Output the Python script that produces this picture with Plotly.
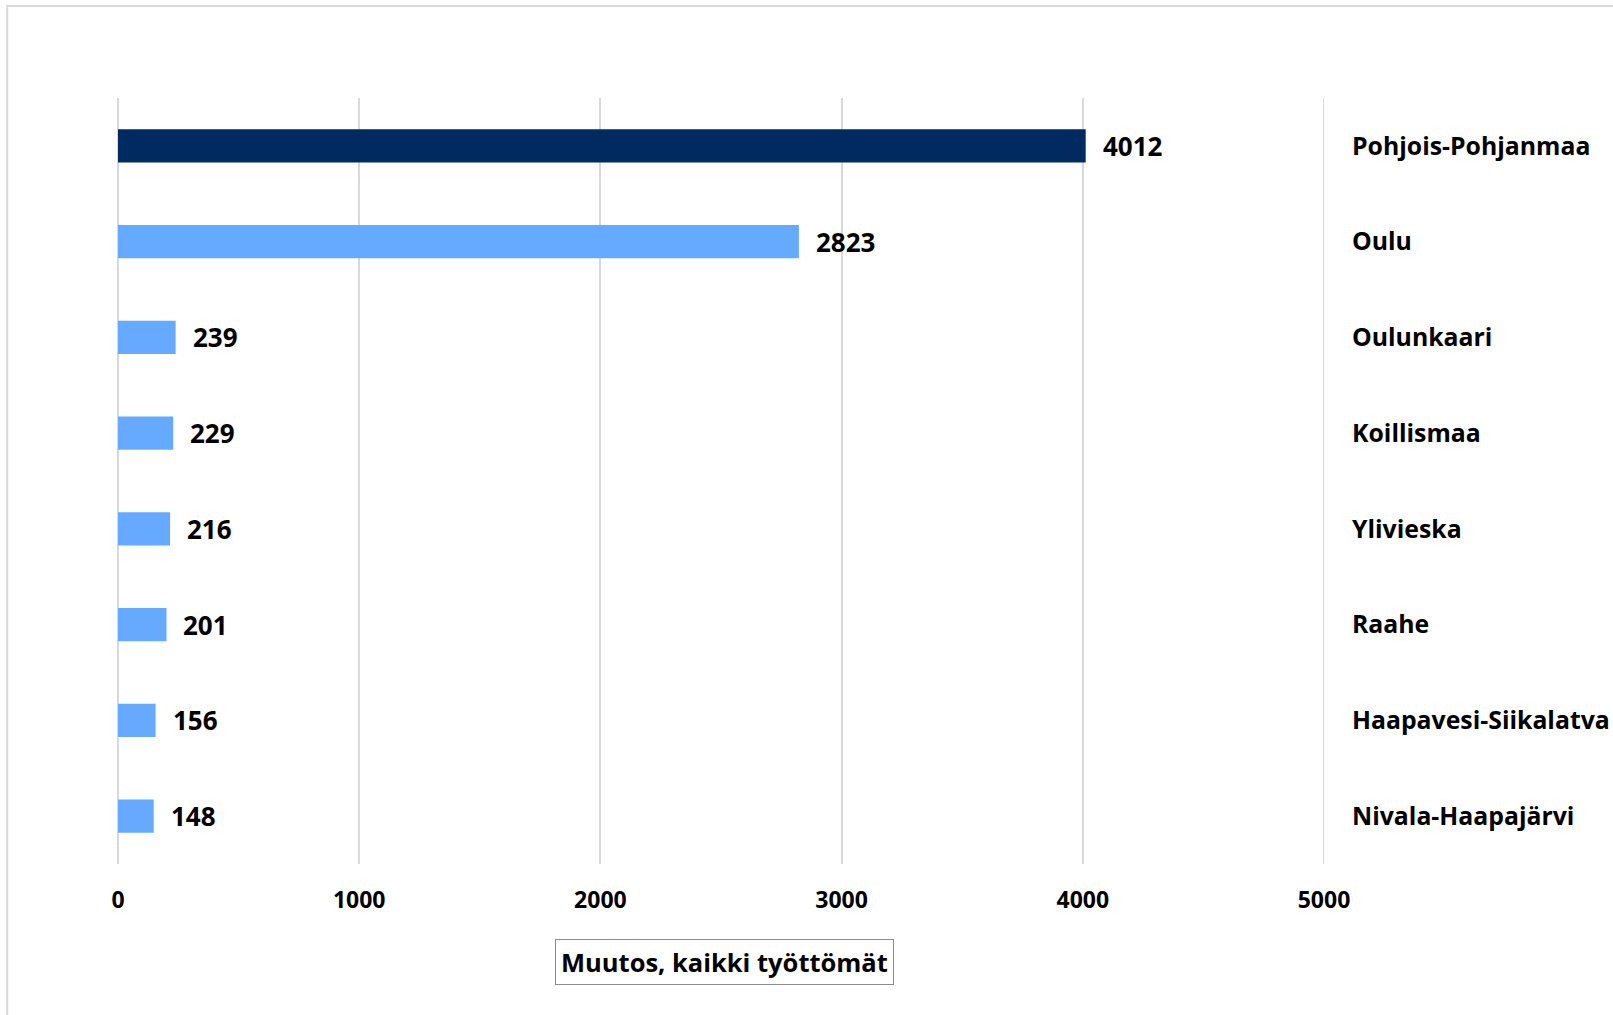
import plotly.graph_objects as go

categories = ["Pohjois-Pohjanmaa", "Oulu", "Oulunkaari", "Koillismaa", "Ylivieska",
              "Raahe", "Haapavesi-Siikalatva", "Nivala-Haapajärvi"]
values = [4012, 2823, 239, 229, 216, 201, 156, 148]
bar_colors = ["#002A60"] + ["#66AAFF"] * 7
tick_vals = [0, 1000, 2000, 3000, 4000, 5000]
axis_title = "Muutos, kaikki työttömät"

FONT = "Open Sans"

fig = go.Figure()
fig.add_trace(go.Bar(
    x=values, y=categories, orientation="h",
    marker=dict(color=bar_colors, line=dict(width=0)),
    width=0.345, hoverinfo="x+y",
))

for c, v in zip(categories, values):
    fig.add_annotation(x=v, y=c, text=f"<b>{v}</b>", showarrow=False,
                       xanchor="left", yanchor="middle", xshift=15, yshift=0,
                       font=dict(family=FONT, size=26, color="#000000"))

fig.add_annotation(xref="paper", yref="paper", x=0.503, y=-0.098, text=f"<b>{axis_title}</b>",
                   showarrow=False, xanchor="center", yanchor="top",
                   font=dict(family=FONT, size=25.5, color="#000000"),
                   bordercolor="#8c8c8c", borderwidth=1, borderpad=5, bgcolor="#ffffff")

fig.add_shape(type="rect", xref="paper", yref="paper",
              x0=-0.0919, x1=1.35, y0=-0.26, y1=1.12,
              line=dict(color="#d9d9d9", width=2), layer="below")

# gridline at the right edge of the range (plotly omits it at the boundary)
fig.add_shape(type="line", xref="x", yref="paper", x0=tick_vals[-1], x1=tick_vals[-1],
              y0=0, y1=1, line=dict(color="#d9d9d9", width=2), layer="below")

fig.update_layout(
    width=1613, height=1015,
    margin=dict(l=118, r=289, t=98, b=151, autoexpand=False),
    paper_bgcolor="#ffffff", plot_bgcolor="#ffffff",
    showlegend=False,
    font=dict(family=FONT, color="#000000"),
)
fig.update_xaxes(range=[0, 5000], tickvals=tick_vals, ticktext=[f"<b>{t}</b>" for t in tick_vals],
                 showgrid=True, gridcolor="#d9d9d9", gridwidth=2,
                 zeroline=True, zerolinecolor="#d9d9d9", zerolinewidth=2,
                 showline=False, ticks="", ticklabelstandoff=20, automargin=False,
                 tickfont=dict(family=FONT, size=23, color="#000000"))
fig.update_yaxes(autorange="reversed", side="right", showgrid=False, showline=False,
                 ticks="", ticklabelstandoff=27, automargin=False,
                 tickvals=categories, ticktext=[f"<b>{c}</b>" for c in categories],
                 tickfont=dict(family=FONT, size=24.8, color="#000000"))

fig.write_html("out.html", config={"displayModeBar": False},
               post_script="document.body.style.margin='0';document.body.style.overflow='hidden';")
